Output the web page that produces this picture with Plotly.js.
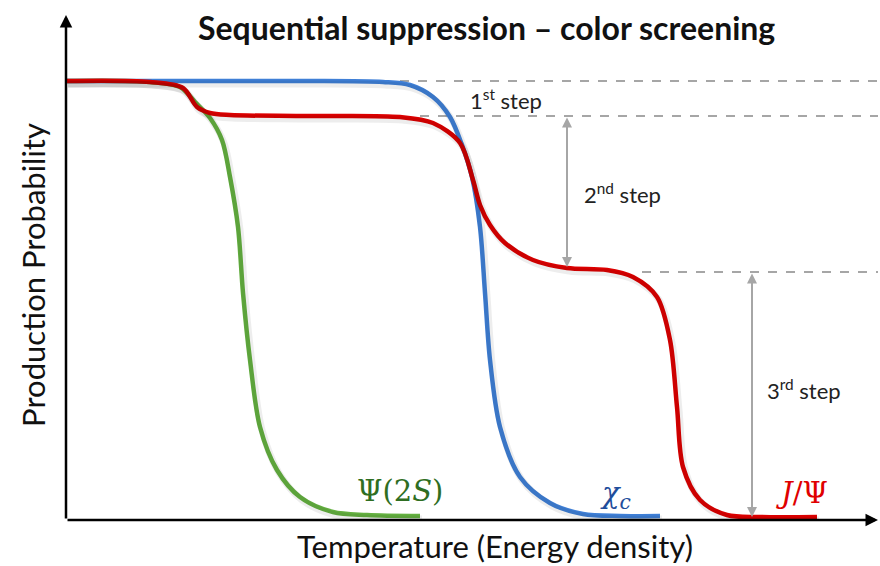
<!DOCTYPE html>
<html>
<head>
<meta charset="utf-8">
<script src="https://cdn.plot.ly/plotly-3.0.1.min.js"></script>
<style>
  html, body { margin: 0; padding: 0; background: #ffffff; }
  #chart { width: 880px; height: 566px; }
</style>
</head>
<body>
<div id="chart"></div>
<script>
// Schematic curves (arbitrary units: temperature vs probability)
const psi2sX = [0, 84, 114, 129, 144, 156, 164, 172, 177, 184, 194, 211, 234, 267, 301, 354];
const psi2sY = [439, 438, 433, 418, 402, 380, 343, 293, 227, 160, 93, 50, 23, 8, 5, 4];

const chicX = [0, 234, 317, 344, 367, 384, 396, 406, 414, 419, 424, 434, 454, 484, 517, 554, 594];
const chicY = [439, 439, 438, 435, 423, 403, 375, 343, 293, 227, 160, 93, 43, 17, 6, 4, 4];

const jpsiX = [0, 84, 117, 131, 144, 164, 234, 334, 367, 394, 407, 414, 424, 439, 467, 501, 541, 567, 591, 604, 611, 617, 634, 661, 694, 751];
const jpsiY = [439, 438, 432, 413, 407, 405, 404, 403, 397, 377, 340, 315, 295, 277, 260, 252, 250, 243, 223, 180, 113, 53, 20, 5, 3, 3];

// dashed reference levels: level, start x
const levelY = [439, 404, 248];
const levelStart = [334, 354, 576];

// step arrows: x, from, to
const stepX = [501, 686];
const stepTop = [404, 248];
const stepBottom = [253, 3];

const X_MAX = 812;
const Y_MAX = 510;

const GREEN = '#64b040';
const BLUE = '#3f7fd6';
const RED = '#dc0000';
const GREY = '#a6a6a6';
const FONT = 'Lato, "Open Sans", sans-serif';
const MATH_FONT = '"DejaVu Serif", serif';

const curve = (x, y, color, shadow) => ({
  x, y,
  type: 'scatter',
  mode: 'lines',
  xaxis: shadow ? 'x2' : 'x',
  yaxis: shadow ? 'y2' : 'y',
  line: {
    color: shadow ? 'rgba(0,0,0,0.07)' : color,
    width: shadow ? 7 : 4.5,
    shape: 'spline', smoothing: 0.9,
  },
  hoverinfo: 'skip',
  showlegend: false,
});

const traces = [
  curve(psi2sX, psi2sY, GREEN, true),
  curve(chicX, chicY, BLUE, true),
  curve(jpsiX, jpsiY, RED, true),
  curve(psi2sX, psi2sY, GREEN),
  curve(chicX, chicY, BLUE),
  curve(jpsiX, jpsiY, RED),
];

const shapes = levelY.map((y, i) => ({
  type: 'line', xref: 'x', yref: 'y',
  x0: levelStart[i], x1: X_MAX, y0: y, y1: y,
  line: { color: GREY, width: 2, dash: 'dash' },
  layer: 'below',
}));

const arrow = (x, y, ax, ay, color, width, side) => ({
  x, y, ax, ay,
  xref: 'x', yref: 'y', axref: 'x', ayref: 'y',
  text: '', showarrow: true,
  arrowhead: 2, startarrowhead: 2, arrowside: side,
  arrowsize: 1, startarrowsize: 1,
  arrowwidth: width, arrowcolor: color,
});

const label = (x, y, text, color, size, family, anchor) => ({
  x, y, xref: 'x', yref: 'y',
  text, showarrow: false,
  xanchor: anchor || 'center', yanchor: 'middle',
  font: { family, size, color },
});

const annotations = [
  // axes
  arrow(X_MAX, 0, 0, 0, '#000000', 2.5, 'end'),
  arrow(0, 505, 0, 0, '#000000', 2.5, 'end'),
  // steps
  ...stepX.map((x, i) => arrow(x, stepBottom[i], x, stepTop[i], GREY, 2, 'end+start')),
  label(440, 421, '1<sup>st</sup> step', '#222222', 22, FONT),
  label(516, 327, '2<sup>nd</sup> step', '#222222', 22, FONT, 'left'),
  label(699, 131, '3<sup>rd</sup> step', '#222222', 22, FONT, 'left'),
  // species
  label(334, 29, 'Ψ(2<i>S</i>)', '#2f6e22', 29, MATH_FONT),
  label(549, 25, '<i>χ<sub>c</sub></i>', '#1f4e9c', 29, MATH_FONT),
  label(736, 27, '<i>J</i>/Ψ', '#e00000', 29, MATH_FONT),
  // axis titles
  {
    x: 0.528, y: -0.05, xref: 'paper', yref: 'paper',
    text: 'Temperature (Energy density)', showarrow: false,
    xanchor: 'center', yanchor: 'middle',
    font: { family: FONT, size: 31, color: '#111111' },
  },
  {
    x: -0.041, y: 0.48, xref: 'paper', yref: 'paper',
    text: 'Production Probability', showarrow: false, textangle: -90,
    xanchor: 'center', yanchor: 'middle',
    font: { family: FONT, size: 31, color: '#111111' },
  },
];

const hiddenAxis = {
  showgrid: false, zeroline: false, showline: false,
  showticklabels: false, ticks: '',
  fixedrange: true, automargin: false,
};

const layout = {
  width: 880,
  height: 566,
  margin: { l: 66, r: 2, t: 10, b: 46 },
  paper_bgcolor: '#ffffff',
  plot_bgcolor: '#ffffff',
  font: { family: FONT, color: '#000000' },
  title: {
    text: '<b>Sequential suppression – color screening</b>',
    font: { family: FONT, size: 32, color: '#111111' },
    x: 0.553, xanchor: 'center',
    y: 0.95, yanchor: 'middle', yref: 'container',
  },
  xaxis: { ...hiddenAxis, range: [0, X_MAX] },
  yaxis: { ...hiddenAxis, range: [0, Y_MAX] },
  // shifted copies for the soft drop shadow
  xaxis2: { ...hiddenAxis, range: [-2, X_MAX - 2], overlaying: 'x' },
  yaxis2: { ...hiddenAxis, range: [3, Y_MAX + 3], overlaying: 'y' },
  shapes,
  annotations,
  showlegend: false,
};

Plotly.newPlot('chart', traces, layout, { displayModeBar: false, staticPlot: true });
</script>
</body>
</html>
